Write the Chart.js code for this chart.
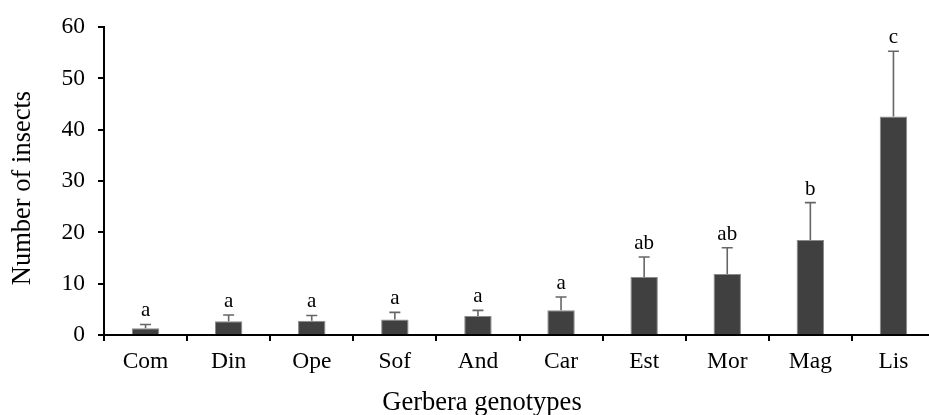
<!DOCTYPE html>
<html>
<head>
<meta charset="utf-8">
<script src="https://cdn.jsdelivr.net/npm/chart.js@4/dist/chart.umd.min.js"></script>
<style>
  html, body { margin: 0; padding: 0; background: #fff; overflow: hidden; }
  #chart { display: block; }
</style>
</head>
<body>
<canvas id="chart" width="935" height="415"></canvas>
<script>
const genotypes = ['Com', 'Din', 'Ope', 'Sof', 'And', 'Car', 'Est', 'Mor', 'Mag', 'Lis'];
const insects = [1.3, 2.7, 2.8, 3.0, 3.7, 4.8, 11.3, 11.9, 18.5, 42.6];
const errors = [0.75, 1.2, 1.0, 1.4, 1.1, 2.6, 3.9, 5.1, 7.3, 12.7];
const letters = ['a', 'a', 'a', 'a', 'a', 'a', 'ab', 'ab', 'b', 'c'];
const yTicks = [0, 10, 20, 30, 40, 50, 60];
const xTitle = 'Gerbera genotypes';
const yTitle = 'Number of insects';

const serif = '"Liberation Serif", "Times New Roman", serif';

// error bars and significance letters on top of each bar
const errorBars = {
    id: 'errorBars',
    afterDatasetsDraw(chart) {
        const ctx = chart.ctx;
        const meta = chart.getDatasetMeta(0);
        const y = chart.scales.y;
        ctx.save();
        meta.data.forEach((bar, i) => {
            const top = y.getPixelForValue(insects[i] + errors[i]);
            const base = y.getPixelForValue(insects[i]);
            ctx.strokeStyle = '#666666';
            ctx.lineWidth = 1.6;
            ctx.beginPath();
            ctx.moveTo(bar.x, base);
            ctx.lineTo(bar.x, top);
            ctx.moveTo(bar.x - 5.5, top);
            ctx.lineTo(bar.x + 5.5, top);
            ctx.stroke();
            ctx.fillStyle = '#000';
            ctx.font = '21px ' + serif;
            ctx.textAlign = 'center';
            ctx.textBaseline = 'alphabetic';
            ctx.fillText(letters[i], bar.x, top - 8);
        });
        ctx.restore();
    }
};

// axis titles, placed where the original figure has them (slightly off-centre)
const axisTitles = {
    id: 'axisTitles',
    afterDraw(chart) {
        const ctx = chart.ctx;
        ctx.save();
        ctx.fillStyle = '#000';
        ctx.font = '26.5px ' + serif;
        ctx.textAlign = 'center';
        ctx.textBaseline = 'alphabetic';
        ctx.fillText(xTitle, 482, 410);
        ctx.translate(30, 188);
        ctx.rotate(-Math.PI / 2);
        ctx.fillText(yTitle, 0, 0);
        ctx.restore();
    }
};

new Chart(document.getElementById('chart'), {
    type: 'bar',
    data: {
        labels: genotypes,
        datasets: [{
            data: insects,
            backgroundColor: '#404040',
            borderColor: '#8a8a8a',
            borderWidth: 1,
            barPercentage: 0.33,
            categoryPercentage: 1
        }]
    },
    options: {
        responsive: false,
        animation: false,
        layout: { padding: { top: 22, right: 0, bottom: 0, left: 0 } },
        plugins: { legend: { display: false }, tooltip: { enabled: false } },
        scales: {
            x: {
                afterFit: s => { s.height = 80; },
                grid: { display: true, drawOnChartArea: false, offset: true, color: '#000', lineWidth: 2, tickLength: 6 },
                border: { color: '#000', width: 2 },
                ticks: { color: '#000', font: { family: serif, size: 23.5 }, padding: 7 }
            },
            y: {
                min: 0,
                max: 60,
                afterFit: s => { s.width = 104; },
                afterBuildTicks: s => { s.ticks = yTicks.map(v => ({ value: v })); },
                grid: { display: true, drawOnChartArea: false, color: '#000', lineWidth: 2, tickLength: 6 },
                border: { color: '#000', width: 2 },
                ticks: { color: '#000', font: { family: serif, size: 23.5 }, padding: 13 }
            }
        }
    },
    plugins: [errorBars, axisTitles]
});
</script>
</body>
</html>
